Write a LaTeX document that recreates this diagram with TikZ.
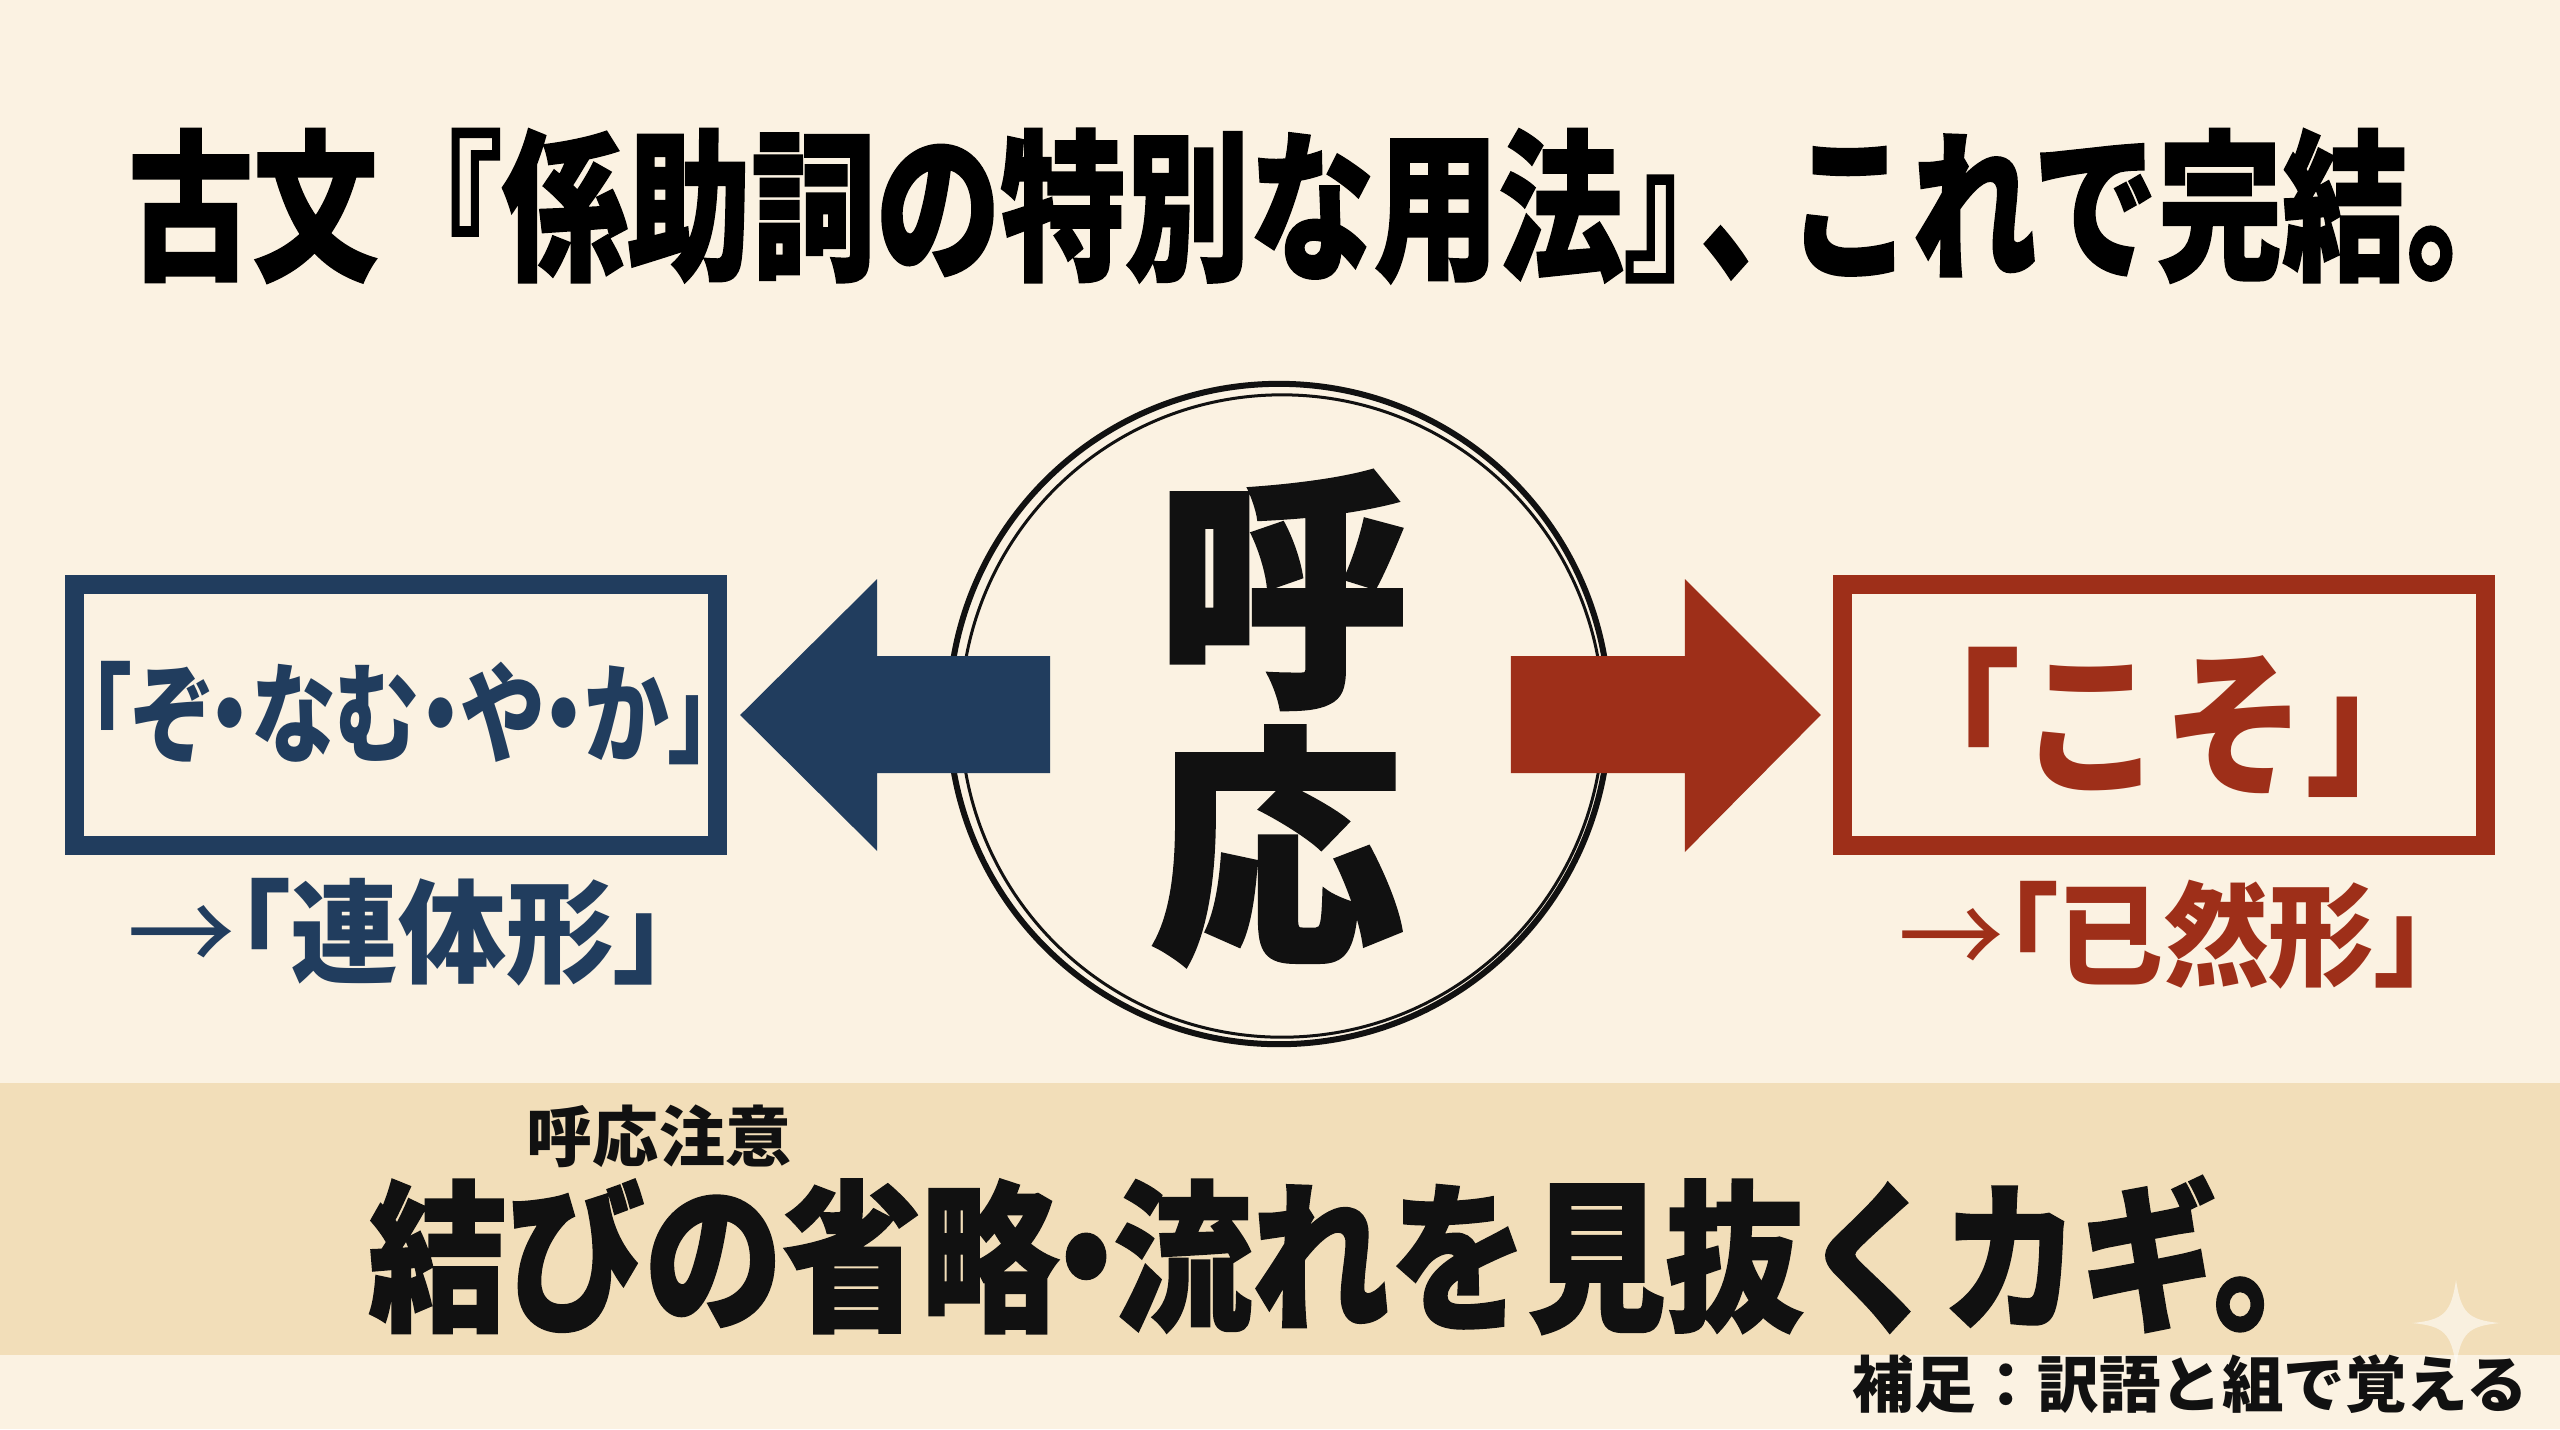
\documentclass[tikz,border=0pt]{standalone}
\usepackage{fontspec}
\usepackage{graphicx}
\usetikzlibrary{calc}
\newfontfamily\jp{Noto Sans CJK JP}
\newfontfamily\jpp{Noto Sans CJK JP}[RawFeature=+palt]
\newfontfamily\jph{Noto Sans CJK JP}[BoldFeatures={FakeBold=1.5}]
\definecolor{bg}{HTML}{FBF2E2}
\definecolor{band}{HTML}{F2DEB9}
\definecolor{navy}{HTML}{213D5E}
\definecolor{rust}{HTML}{9E2F19}
\definecolor{inkc}{HTML}{111111}
\tikzset{
  txt/.style={inner sep=0pt, outer sep=0pt},
  framebox/.style={draw=#1, line width=0.19cm, minimum width=6.43cm, minimum height=2.61cm, inner sep=0pt},
  ringline/.style={circle, draw=inkc, inner sep=0pt},
}
\begin{document}
\begin{tikzpicture}[x=0.01cm,y=-0.01cm]
\fill[bg] (0,0) rectangle (2560,1429);
\useasboundingbox (0,0) rectangle (2560,1429);
% bottom band
\fill[band] (0,1083) rectangle (2560,1355);
% sparkle
\fill[white, opacity=0.55] (2456,1280) .. controls (2461,1313) and (2468,1320) .. (2500,1323)
  .. controls (2468,1326) and (2461,1333) .. (2456,1366)
  .. controls (2451,1333) and (2444,1326) .. (2412,1323)
  .. controls (2444,1320) and (2451,1313) .. (2456,1280) -- cycle;

% title
\node[txt, font=\jph\bfseries\fontsize{46pt}{48pt}\selectfont] (title) at (1330,206)
  {\scalebox{0.77}[1]{古文『係助詞の特別な用法』\kern-0.38em、\kern-0.3em これで完結。}};

% ring
\node[ringline, line width=0.06cm, minimum size=6.6cm] (ring) at (1279,714) {};
\node[ringline, line width=0.03cm, minimum size=6.42cm] (ring2) at (1282,716) {};
\node[txt, font=\jph\bfseries\fontsize{72pt}{74pt}\selectfont, text=inkc] (ko) at (1283,590) {呼};
\node[txt, font=\jph\bfseries\fontsize{72pt}{74pt}\selectfont, text=inkc] (ou) at (1277,846) {応};

% boxes
\node[framebox=navy] (lbox) at (396,715) {};
\node[txt, text=navy, font=\jpp\bfseries\fontsize{31pt}{32pt}\selectfont] (ltext) at (400,713)
  {\scalebox{0.78}[1]{「ぞ・なむ・や・か」}};
\node[framebox=rust] (rbox) at (2164,715) {};
\node[txt, text=rust, font=\jp\bfseries\fontsize{45pt}{46pt}\selectfont] (rtext) at (2163,722)
  {\scalebox{0.9}[1]{「こそ」}};

% block arrows
\coordinate (ltip) at ($(lbox.east)+(13,0)$);
\fill[navy] (ltip) -- ++(137,-136) -- ++(0,77) -- ++(173,0) -- ++(0,117) -- ++(-173,0) -- ++(0,78) -- cycle;
\coordinate (rtip) at ($(rbox.west)+(-12,0)$);
\fill[rust] (rtip) -- ++(-136,-136) -- ++(0,77) -- ++(-174,0) -- ++(0,117) -- ++(174,0) -- ++(0,79) -- cycle;

% forms
\node[txt, text=navy, font=\jpp\bfseries\fontsize{32pt}{33pt}\selectfont] (lform) at (398,932)
  {\scalebox{0.96}[1]{{\jp\mdseries →}「連体形」}};
\node[txt, text=rust, font=\jpp\bfseries\fontsize{32pt}{33pt}\selectfont] (rform) at (2163,935)
  {\scalebox{0.94}[1]{{\jp\mdseries →}「已然形」}};

% bottom texts
\node[txt, text=inkc, font=\jp\bfseries\fontsize{18.8pt}{20pt}\selectfont] (note) at (659,1136) {呼応注意};
\node[txt, text=inkc, font=\jph\bfseries\fontsize{46pt}{48pt}\selectfont] (main) at (1360,1255)
  {\scalebox{0.853}[1]{結びの省略\kern-0.3em・\kern-0.3em 流れを見抜くカギ。}};
\node[txt, anchor=east, text=inkc, font=\jp\bfseries\fontsize{17.5pt}{19pt}\selectfont] (supp) at (2528,1384) {補足：訳語と組で覚える};
\end{tikzpicture}
\end{document}
